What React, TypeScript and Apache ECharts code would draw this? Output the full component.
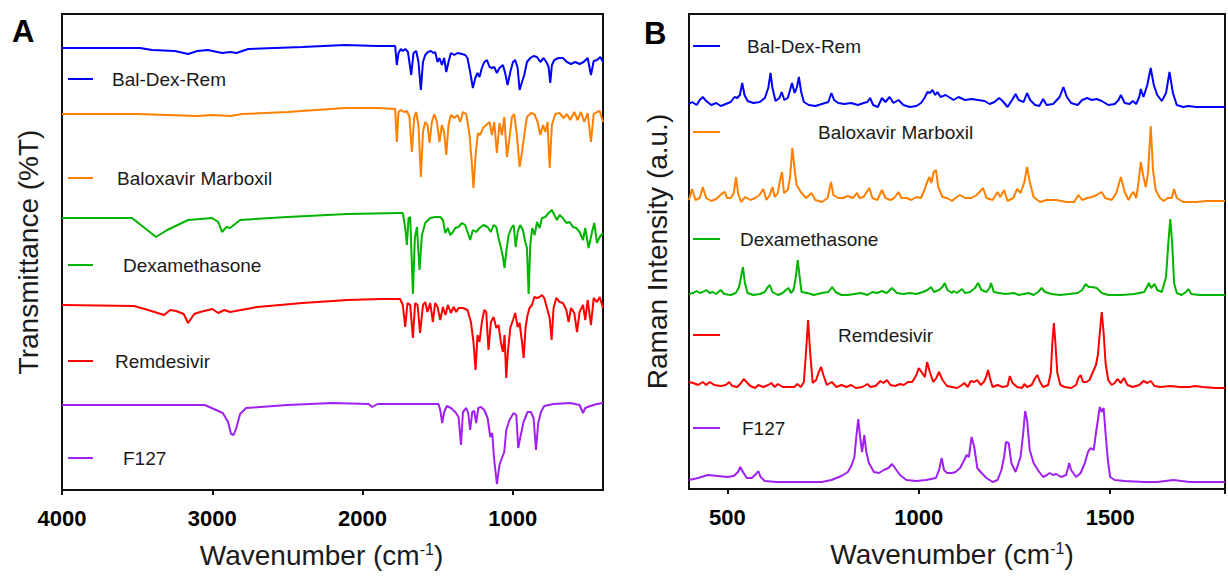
import React, { useEffect, useRef } from "react";
import * as echarts from "echarts";

// ---------- DATA ----------
// Panel A – FTIR, [wavenumber cm-1, relative transmittance (stacked, plot units)]
const ftirBalDexRem: number[][] = [[4000,442],[3480,442],[3400,440],[3250,439],[3160,436],[3100,439],[3030,440],[2935,437],[2880,438],[2840,437],[2760,441],[2400,443],[2120,445],[1900,444],[1783,444],[1772,425],[1761,437],[1745,441],[1732,439],[1716,441],[1698,438],[1676,415],[1661,437],[1643,439],[1628,428],[1612,400],[1598,428],[1583,435],[1565,438],[1545,439],[1528,437],[1517,438],[1501,428],[1488,432],[1472,425],[1457,432],[1443,418],[1428,428],[1412,437],[1390,435],[1368,437],[1339,436],[1317,435],[1302,432],[1284,418],[1266,402],[1250,412],[1235,417],[1222,413],[1206,422],[1190,428],[1172,430],[1155,423],[1139,422],[1124,423],[1106,417],[1089,422],[1066,425],[1051,417],[1035,405],[1017,418],[999,428],[984,430],[968,422],[955,400],[939,408],[924,415],[906,428],[884,432],[862,434],[839,433],[817,428],[795,432],[777,428],[762,423],[751,407],[740,425],[724,430],[696,432],[667,432],[640,428],[613,426],[584,428],[556,426],[529,428],[502,432],[480,415],[462,429],[440,430],[418,433],[400,428]];
const ftirBaloxavir: number[][] = [[4000,376],[3500,376],[3300,375],[3100,374],[3000,375],[2880,374],[2800,376],[2500,378],[2120,382],[1900,382],[1783,381],[1772,348],[1761,378],[1745,380],[1723,378],[1705,379],[1688,373],[1672,338],[1656,373],[1643,378],[1628,365],[1612,313],[1598,358],[1583,368],[1568,365],[1554,347],[1539,368],[1523,376],[1505,368],[1488,348],[1472,365],[1457,358],[1443,335],[1428,365],[1412,375],[1390,372],[1368,375],[1350,368],[1332,378],[1310,376],[1288,355],[1272,325],[1262,302],[1246,338],[1232,357],[1217,355],[1199,362],[1177,365],[1155,368],[1139,355],[1124,368],[1106,337],[1089,367],[1073,355],[1057,373],[1039,333],[1022,352],[1006,373],[991,376],[973,355],[955,323],[939,338],[924,355],[906,373],[880,377],[857,376],[835,368],[817,355],[799,365],[784,358],[769,368],[755,322],[740,365],[718,376],[689,377],[662,372],[640,376],[618,370],[591,378],[569,370],[547,378],[525,368],[502,377],[480,348],[462,376],[440,378],[422,379],[400,368]];
const ftirDexamethasone: number[][] = [[4000,272],[3534,272],[3450,262],[3374,253],[3300,260],[3161,270],[3001,272],[2960,268],[2935,258],[2905,263],[2881,262],[2815,270],[2500,273],[2100,276],[1750,277],[1732,277],[1716,262],[1705,245],[1694,272],[1683,273],[1665,196],[1652,252],[1638,263],[1621,220],[1605,255],[1583,267],[1550,272],[1517,273],[1483,273],[1465,270],[1450,257],[1432,262],[1417,255],[1399,258],[1383,262],[1361,263],[1339,267],[1317,265],[1299,257],[1284,250],[1266,260],[1244,258],[1222,262],[1195,265],[1168,263],[1146,258],[1128,265],[1110,263],[1095,252],[1079,242],[1066,233],[1055,222],[1044,238],[1028,255],[1010,262],[995,265],[981,243],[968,258],[951,265],[933,260],[917,248],[906,242],[895,196],[884,245],[871,262],[855,255],[839,268],[822,262],[806,272],[784,273],[762,277],[740,280],[724,275],[706,270],[689,275],[667,272],[644,267],[622,268],[600,263],[578,262],[556,258],[533,250],[518,262],[496,242],[473,258],[458,267],[440,247],[422,253],[400,257]];
const ftirRemdesivir: number[][] = [[4000,185],[3520,184],[3427,180],[3321,175],[3280,180],[3241,179],[3190,176],[3161,167],[3120,176],[3081,178],[3000,181],[2961,177],[2920,180],[2881,178],[2700,183],[2400,187],[2100,190],[1883,191],[1750,191],[1732,185],[1716,163],[1701,187],[1683,185],[1665,152],[1650,187],[1634,185],[1617,157],[1598,185],[1583,188],[1568,178],[1550,187],[1532,168],[1517,187],[1501,183],[1483,170],[1465,183],[1448,175],[1432,185],[1412,177],[1394,183],[1377,178],[1361,182],[1332,182],[1302,180],[1279,168],[1262,148],[1248,120],[1235,155],[1222,148],[1206,168],[1190,180],[1177,178],[1162,140],[1146,168],[1128,173],[1110,162],[1095,165],[1079,147],[1066,138],[1055,155],[1044,112],[1033,138],[1017,162],[999,170],[984,177],[968,163],[955,167],[939,148],[928,132],[915,163],[902,175],[889,182],[873,185],[857,193],[839,192],[822,193],[806,195],[791,192],[773,182],[755,172],[742,150],[729,182],[711,192],[689,188],[667,187],[644,180],[629,168],[613,182],[591,177],[573,158],[556,178],[533,185],[518,170],[502,190],[480,165],[462,192],[440,188],[422,193],[400,182]];
const ftirF127: number[][] = [[4000,85],[3050,85],[2975,80],[2930,77],[2895,68],[2875,56],[2858,55],[2840,62],[2815,76],[2775,82],[2500,85],[2200,87],[1960,86],[1936,83],[1900,86],[1700,86],[1495,86],[1483,80],[1470,67],[1457,78],[1439,84],[1412,82],[1383,78],[1361,73],[1345,45],[1332,78],[1310,82],[1297,77],[1284,60],[1270,78],[1257,79],[1244,67],[1230,82],[1212,83],[1190,80],[1168,72],[1150,53],[1137,57],[1124,30],[1106,6],[1089,25],[1073,32],[1057,38],[1044,60],[1022,70],[995,77],[977,75],[964,42],[951,52],[929,68],[902,78],[880,78],[862,72],[846,40],[831,67],[813,78],[791,84],[729,86],[618,87],[556,85],[533,77],[518,82],[485,84],[440,86],[400,87]];

// Panel B – Raman, [Raman shift cm-1, relative intensity (stacked, plot units)]
const ramanBalDexRem: number[][] = [[400,385],[408,387],[420,384],[428,389],[436,392],[445,388],[458,384],[471,386],[483,383],[496,385],[509,387],[519,392],[526,391],[533,394],[539,406],[545,394],[553,388],[568,386],[585,387],[598,391],[607,401],[613,416],[618,401],[626,388],[636,391],[642,397],[649,389],[658,391],[664,399],[669,406],[676,396],[682,402],[687,412],[693,397],[700,387],[713,384],[730,383],[747,385],[764,387],[772,396],[779,389],[790,386],[806,385],[823,386],[841,384],[856,386],[866,387],[873,391],[881,384],[893,382],[904,391],[913,387],[924,392],[934,386],[947,389],[960,384],[977,382],[994,383],[1006,386],[1015,391],[1023,397],[1029,396],[1036,399],[1043,394],[1049,397],[1057,392],[1070,394],[1083,391],[1091,389],[1104,392],[1121,389],[1138,390],[1155,389],[1172,388],[1185,385],[1198,387],[1210,391],[1219,388],[1232,382],[1244,389],[1253,395],[1261,389],[1274,387],[1283,396],[1291,389],[1304,384],[1315,383],[1325,390],[1334,384],[1351,385],[1368,392],[1378,402],[1387,392],[1398,386],[1415,384],[1427,389],[1440,391],[1452,389],[1465,390],[1478,388],[1495,384],[1512,385],[1522,389],[1528,394],[1538,386],[1551,385],[1559,388],[1568,385],[1576,392],[1580,400],[1587,392],[1597,404],[1606,421],[1614,404],[1623,394],[1635,388],[1646,396],[1655,417],[1664,396],[1674,384],[1691,382],[1704,383],[1725,382],[1751,382],[1776,382],[1800,382]];
const ramanBaloxavir: number[][] = [[400,289],[408,300],[417,289],[428,291],[436,302],[445,291],[458,288],[471,290],[482,294],[488,296],[494,297],[499,291],[509,291],[517,296],[523,312],[528,296],[536,287],[547,292],[560,289],[573,291],[584,294],[594,300],[602,289],[611,294],[618,302],[624,292],[632,296],[638,309],[643,317],[648,296],[658,299],[664,312],[670,341],[676,319],[681,304],[692,297],[706,291],[720,296],[730,289],[747,287],[762,291],[771,307],[777,294],[790,291],[802,291],[815,293],[828,291],[839,296],[845,291],[856,292],[864,297],[871,301],[879,291],[892,289],[904,299],[913,291],[926,289],[936,291],[947,297],[955,291],[968,291],[981,289],[994,292],[1006,291],[1015,299],[1021,306],[1028,312],[1033,306],[1039,317],[1045,319],[1051,302],[1062,292],[1074,291],[1087,288],[1096,291],[1108,294],[1121,291],[1138,291],[1151,294],[1159,297],[1168,301],[1177,291],[1193,289],[1206,297],[1213,292],[1223,299],[1232,288],[1247,291],[1257,300],[1266,296],[1276,307],[1283,322],[1290,307],[1300,292],[1317,287],[1334,289],[1359,289],[1385,287],[1406,287],[1417,294],[1427,289],[1440,291],[1452,292],[1465,294],[1478,297],[1487,291],[1504,289],[1516,296],[1528,312],[1538,297],[1548,289],[1556,295],[1561,297],[1568,291],[1574,306],[1580,327],[1587,312],[1593,302],[1599,316],[1606,363],[1612,319],[1619,299],[1630,291],[1640,288],[1650,291],[1661,291],[1667,300],[1674,291],[1691,287],[1725,287],[1751,288],[1776,288],[1800,288]];
const ramanDexamethasone: number[][] = [[400,195],[411,196],[420,198],[428,196],[436,197],[445,199],[454,196],[462,197],[471,195],[483,199],[492,195],[509,194],[522,196],[530,201],[536,212],[541,222],[546,206],[553,196],[568,194],[585,195],[598,197],[604,201],[611,204],[618,197],[632,194],[645,196],[653,199],[660,201],[666,196],[673,199],[679,212],[684,229],[689,212],[694,197],[709,196],[726,194],[747,196],[764,197],[774,202],[783,197],[798,194],[815,194],[832,195],[849,196],[866,194],[879,197],[892,196],[904,198],[917,196],[930,201],[943,196],[960,195],[977,196],[994,195],[1011,197],[1023,199],[1032,202],[1040,197],[1053,199],[1062,202],[1068,206],[1075,199],[1087,196],[1091,198],[1100,196],[1113,200],[1121,196],[1134,197],[1147,201],[1155,206],[1164,199],[1177,197],[1185,201],[1189,206],[1196,197],[1210,196],[1227,195],[1249,196],[1261,194],[1274,195],[1287,196],[1300,194],[1312,197],[1321,201],[1330,197],[1347,195],[1368,194],[1393,195],[1415,196],[1427,199],[1436,205],[1444,202],[1452,202],[1465,201],[1478,196],[1495,194],[1529,194],[1563,195],[1589,197],[1596,202],[1601,206],[1607,201],[1616,205],[1623,199],[1635,197],[1646,212],[1652,246],[1657,270],[1662,246],[1667,206],[1674,196],[1687,194],[1698,197],[1704,200],[1712,195],[1734,194],[1776,194],[1800,194]];
const ramanRemdesivir: number[][] = [[400,107],[411,106],[424,104],[436,107],[445,104],[454,107],[466,104],[483,103],[496,104],[505,107],[513,103],[526,102],[536,106],[543,110],[550,107],[560,103],[573,101],[581,104],[594,102],[607,104],[615,106],[624,102],[632,105],[645,102],[662,102],[675,102],[683,105],[692,102],[700,107],[706,139],[711,169],[716,139],[723,106],[732,109],[739,117],[745,122],[751,114],[760,104],[773,107],[785,102],[798,104],[811,102],[823,104],[836,101],[853,102],[866,105],[874,102],[887,103],[900,108],[908,106],[917,109],[926,104],[938,103],[951,105],[961,104],[972,107],[983,107],[994,114],[1000,121],[1009,116],[1016,112],[1022,127],[1029,117],[1038,107],[1046,111],[1053,117],[1062,109],[1074,103],[1087,102],[1100,101],[1113,104],[1119,106],[1128,102],[1136,108],[1145,107],[1153,109],[1162,104],[1170,107],[1176,112],[1181,119],[1186,111],[1193,102],[1206,104],[1219,102],[1232,103],[1238,113],[1245,106],[1257,102],[1270,101],[1276,105],[1283,102],[1295,104],[1304,111],[1310,114],[1317,107],[1325,102],[1338,104],[1345,116],[1349,146],[1353,166],[1357,146],[1362,116],[1370,104],[1381,102],[1398,101],[1411,104],[1417,111],[1423,114],[1429,107],[1438,107],[1446,109],[1455,117],[1463,124],[1468,134],[1473,156],[1478,177],[1483,156],[1488,126],[1495,109],[1504,104],[1512,106],[1519,110],[1528,106],[1536,111],[1545,104],[1559,102],[1576,104],[1587,108],[1597,106],[1606,108],[1616,103],[1631,102],[1657,103],[1682,102],[1708,102],[1721,103],[1742,102],[1776,101],[1800,101]];
const ramanF127: number[][] = [[400,9],[424,11],[449,14],[475,13],[500,12],[517,13],[528,17],[534,22],[541,17],[551,11],[564,11],[575,15],[581,18],[587,12],[598,8],[628,7],[670,7],[713,7],[747,7],[772,9],[798,13],[815,17],[825,24],[832,32],[837,52],[842,70],[847,52],[852,37],[858,54],[863,37],[870,26],[883,17],[896,16],[909,19],[921,21],[930,25],[938,21],[951,14],[968,9],[994,8],[1019,9],[1045,11],[1053,19],[1060,31],[1066,19],[1074,16],[1087,16],[1096,17],[1108,21],[1119,29],[1125,34],[1131,32],[1138,52],[1145,42],[1153,21],[1164,16],[1177,11],[1193,7],[1206,9],[1216,19],[1223,32],[1228,47],[1235,46],[1242,26],[1253,17],[1266,32],[1273,56],[1278,78],[1283,69],[1290,39],[1300,26],[1313,18],[1325,12],[1335,14],[1342,16],[1351,14],[1359,15],[1372,12],[1385,14],[1390,21],[1393,26],[1398,19],[1411,12],[1423,16],[1434,26],[1442,37],[1449,41],[1457,39],[1463,56],[1468,69],[1473,82],[1478,77],[1483,81],[1488,56],[1494,29],[1500,12],[1512,9],[1538,8],[1589,7],[1623,7],[1665,9],[1708,7],[1776,7],[1800,7]];

const sampleNames = ["Bal-Dex-Rem", "Baloxavir Marboxil", "Dexamethasone", "Remdesivir", "F127"];
const ftirSeries = [ftirBalDexRem, ftirBaloxavir, ftirDexamethasone, ftirRemdesivir, ftirF127];
const ramanSeries = [ramanBalDexRem, ramanBaloxavir, ramanDexamethasone, ramanRemdesivir, ramanF127];

// ---------- STYLE / LAYOUT ----------
const COLORS = ["#0000ff", "#ff8000", "#00b400", "#ff0000", "#a020f0"];
const FONT = "'Liberation Sans', Arial, sans-serif";
const TEXT = "#1a1a1a";
// legend placements [lineX1, lineX2, y, textX]
const legendA = [[68, 93, 79, 112], [68, 93, 178, 117], [68, 93, 265, 123], [68, 93, 361, 115], [68, 93, 458, 123]];
const legendB = [[693, 720, 46, 747], [693, 720, 132, 818], [693, 720, 239, 740], [693, 720, 335, 838], [693, 720, 428, 742]];

export default function App() {
  const ref = useRef<HTMLDivElement>(null);
  useEffect(() => {
    if (!ref.current) return;
    const chart = echarts.init(ref.current, undefined, { renderer: "svg" });

    const xName = "Wavenumber (cm{sup|-1})";
    const nameStyle = (shiftPad: number) => ({
      fontFamily: FONT,
      fontSize: 28,
      color: TEXT,
      padding: [0, shiftPad, 0, 0],
      rich: { sup: { fontFamily: FONT, fontSize: 16, color: TEXT, verticalAlign: "top", padding: [0, 0, 12, 0] } },
    });
    const makeX = (grid: number, min: number, max: number, step: number, inverse: boolean, shiftPad: number) => ({
      gridIndex: grid,
      type: "value",
      inverse,
      min,
      max,
      minInterval: step,
      maxInterval: step,
      axisLine: { show: true, onZero: false, lineStyle: { color: "#111", width: 2 } },
      axisTick: { show: true, length: 5, lineStyle: { color: "#111", width: 2 } },
      axisLabel: {
        fontFamily: FONT,
        fontSize: 22,
        fontWeight: "bold",
        color: "#000",
        margin: 17,
        showMinLabel: false,
        formatter: (v: number) => (v % step === 0 ? String(v) : ""),
      },
      splitLine: { show: false },
      name: xName,
      nameLocation: "middle",
      nameGap: 51,
      nameTextStyle: nameStyle(shiftPad),
    });
    const makeY = (grid: number, max: number, name: string, gap: number) => ({
      gridIndex: grid,
      type: "value",
      min: 0,
      max,
      axisLine: { show: false },
      axisTick: { show: false },
      axisLabel: { show: false },
      splitLine: { show: false },
      name,
      nameLocation: "middle",
      nameGap: gap,
      nameRotate: 90,
      nameTextStyle: { fontFamily: FONT, fontSize: 28, color: TEXT },
    });

    const series: any[] = [];
    ftirSeries.forEach((d, i) =>
      series.push({
        type: "line", name: sampleNames[i], xAxisIndex: 0, yAxisIndex: 0, data: d,
        showSymbol: false, symbol: "none", silent: true,
        lineStyle: { color: COLORS[i], width: 2 }, itemStyle: { color: COLORS[i] },
      })
    );
    ramanSeries.forEach((d, i) =>
      series.push({
        type: "line", name: sampleNames[i], xAxisIndex: 1, yAxisIndex: 1, data: d,
        showSymbol: false, symbol: "none", silent: true,
        lineStyle: { color: COLORS[i], width: 2 }, itemStyle: { color: COLORS[i] },
      })
    );

    const graphics: any[] = [];
    const addLegend = (pos: number[][]) =>
      pos.forEach((p, i) => {
        graphics.push({ type: "line", shape: { x1: p[0], y1: p[2], x2: p[1], y2: p[2] }, style: { stroke: COLORS[i], lineWidth: 2 }, silent: true });
        graphics.push({ type: "text", x: p[3], y: p[2], style: { text: sampleNames[i], fontFamily: FONT, fontSize: 19, fill: TEXT, verticalAlign: "middle" }, silent: true });
      });
    addLegend(legendA);
    addLegend(legendB);
    graphics.push({ type: "text", x: 12, y: 31, style: { text: "A", fontFamily: FONT, fontSize: 31, fontWeight: "bold", fill: "#000", verticalAlign: "middle" } });
    graphics.push({ type: "text", x: 644, y: 33, style: { text: "B", fontFamily: FONT, fontSize: 31, fontWeight: "bold", fill: "#000", verticalAlign: "middle" } });

    chart.setOption({
      animation: false,
      backgroundColor: "#ffffff",
      grid: [
        { left: 62, top: 14, width: 541, height: 476, show: true, borderColor: "#111", borderWidth: 2, backgroundColor: "transparent" },
        { left: 689, top: 14, width: 549, height: 475, show: true, borderColor: "#111", borderWidth: 2, backgroundColor: "transparent" },
      ],
      xAxis: [makeX(0, 400, 4000, 1000, true, 22), makeX(1, 400, 1800, 500, false, 10)],
      yAxis: [makeY(0, 476, "Transmittance (%T)", 20), makeY(1, 475, "Raman Intensity (a.u.)", 18)],
      series,
      graphic: graphics,
    });
    return () => chart.dispose();
  }, []);
  return <div ref={ref} style={{ position: "fixed", left: 0, top: 0, width: 1228, height: 576 }} />;
}
